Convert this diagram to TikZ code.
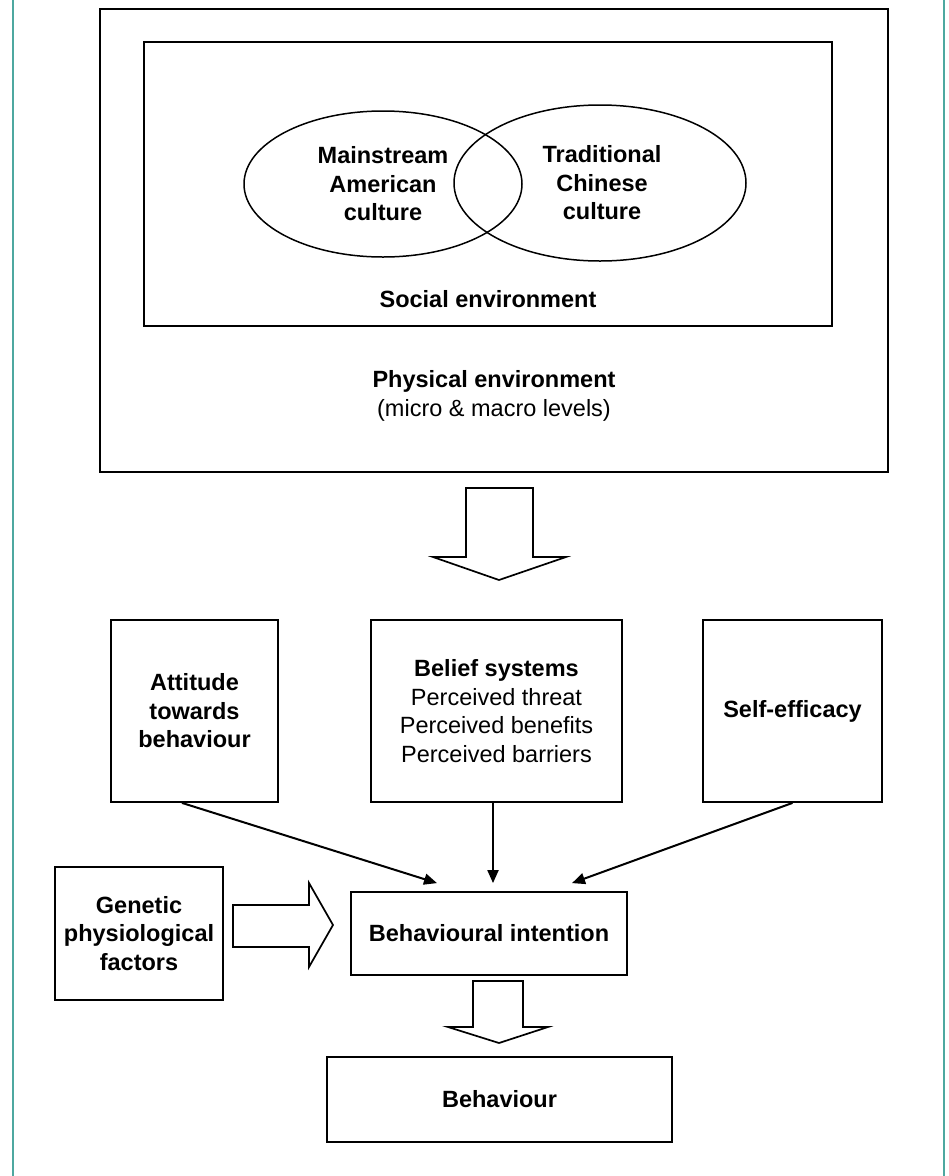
\documentclass[tikz,border=0pt]{standalone}
\usepackage{fontspec}
\setmainfont{Liberation Sans}
\usetikzlibrary{arrows.meta,shapes.geometric}
\definecolor{frameteal}{RGB}{78,168,160}
\newcommand\diagfont{\fontsize{23.5}{28.5}\selectfont}

\begin{document}
\begin{tikzpicture}[x=1pt,y=-1pt,
  box/.style={draw, line width=1.8pt, inner sep=0pt, align=center, font=\diagfont\bfseries},
  oval/.style={draw, ellipse, line width=1.5pt, inner sep=0pt, align=center, font=\diagfont\bfseries},
  label/.style={align=center, font=\diagfont},
  blockarrow/.style={draw, line width=1.7pt, line join=miter},
  arrow/.style={draw, line width=2pt, -{Triangle[length=13pt,width=11pt]}}]
\useasboundingbox (0,0) rectangle (949,1176);
%
\draw [frameteal, line width=2.2pt] (13,0) -- (13,1176);
\draw [frameteal, line width=2.2pt] (944,0) -- (944,1176);
%
\node (outer) at (494,240.5) [box, line width=2.2pt, minimum width=788pt, minimum height=463pt] {};
\node (inner) at (488,184) [box, minimum width=688pt, minimum height=284pt] {};
%
\node (american) at (383,184) [oval, minimum width=278pt, minimum height=146pt] {Mainstream\\American\\culture};
\node (chinese) at (600,183) [oval, minimum width=292pt, minimum height=156pt] {\hspace*{4pt}Traditional\\\hspace*{4pt}Chinese\\\hspace*{4pt}culture};
%
\node (social) at (488,299) [label] {\textbf{Social environment}};
\node (physical) at (494,396) [label] {\textbf{Physical environment}\\(micro \& macro levels)};
%
\draw [blockarrow]
     (466,488)
  -- ++(67,0)
  -- ++(0,69)
  -- ++(33,0)
  -- ++(-67,23)
  -- ++(-66,-23)
  -- ++(33,0)
  -- cycle;
%
\node (attitude) at (194.5,711) [box, minimum width=167pt, minimum height=182pt] {Attitude\\towards\\behaviour};
\node (belief) at (496.5,711) [box, font=\diagfont, minimum width=251pt, minimum height=182pt] {\textbf{Belief systems}\\Perceived threat\\Perceived benefits\\Perceived barriers};
\node (efficacy) at (792.5,711) [box, minimum width=179pt, minimum height=182pt] {Self-efficacy};
%
\node (genetic) at (139,933.5) [box, minimum width=168pt, minimum height=133pt] {Genetic\\physiological\\factors};
\node (intention) at (489,933.5) [box, minimum width=276pt, minimum height=83pt] {Behavioural intention};
\node (behaviour) at (499.5,1099.5) [box, minimum width=345pt, minimum height=85pt] {Behaviour};
%
\draw [arrow] ([xshift=-12.5pt]attitude.south) -- ([xshift=-52pt,yshift=8pt]intention.north);
\draw [arrow] ([xshift=-3.5pt]belief.south) -- ([xshift=4pt,yshift=8pt]intention.north);
\draw [arrow] (efficacy.south) -- ([xshift=83pt,yshift=8pt]intention.north);
%
\draw [blockarrow]
     (233,905)
  -- ++(76,0)
  -- ++(0,-22)
  -- ++(24,42)
  -- ++(-24,42)
  -- ++(0,-20)
  -- ++(-76,0)
  -- cycle;
%
\draw [blockarrow]
     (473,981)
  -- ++(50,0)
  -- ++(0,46)
  -- ++(25,0)
  -- ++(-49,16)
  -- ++(-51,-16)
  -- ++(25,0)
  -- cycle;
\end{tikzpicture}
\end{document}
